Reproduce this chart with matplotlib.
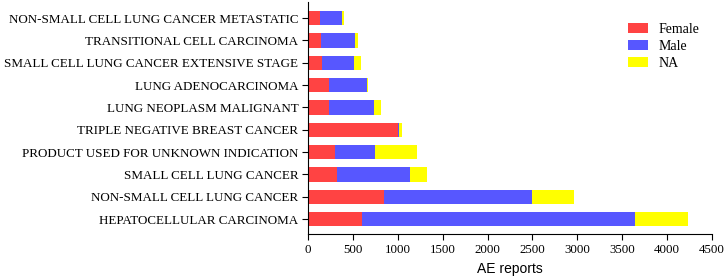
import matplotlib.pyplot as plt
import numpy as np

# categories bottom -> top
categories = ['HEPATOCELLULAR CARCINOMA', 'NON-SMALL CELL LUNG CANCER', 'SMALL CELL LUNG CANCER',
              'PRODUCT USED FOR UNKNOWN INDICATION', 'TRIPLE NEGATIVE BREAST CANCER',
              'LUNG NEOPLASM MALIGNANT', 'LUNG ADENOCARCINOMA',
              'SMALL CELL LUNG CANCER EXTENSIVE STAGE', 'TRANSITIONAL CELL CARCINOMA',
              'NON-SMALL CELL LUNG CANCER METASTATIC']
female = [597, 850, 327, 301, 1006, 230, 234, 152, 149, 138]
male = [3048, 1640, 812, 441, 9, 501, 427, 360, 371, 237]
na = [584, 475, 190, 475, 31, 78, 11, 74, 41, 30]

plt.rcParams['font.family'] = ['Liberation Serif', 'DejaVu Serif']

fig = plt.figure(figsize=(7.28, 2.79), dpi=100)
ax = fig.add_axes([308 / 728, 1 - 234 / 279, 404 / 728, 232 / 279])

y = np.arange(len(categories))
f = np.array(female)
m = np.array(male)
n = np.array(na)
ax.barh(y, f, height=0.64, color='#FF4343', label='Female')
ax.barh(y, m, left=f, height=0.64, color='#5757FF', label='Male')
ax.barh(y, n, left=f + m, height=0.64, color='#FFFF00', label='NA')

ax.set_yticks(y)
ax.set_yticklabels(categories, fontsize=9.4)
ax.set_xlim(0, 4500)
ax.set_xticks(np.arange(0, 4501, 500))
ax.tick_params(axis='x', labelsize=9.3, length=4, width=0.8)
ax.tick_params(axis='y', length=4, width=0.8, pad=3)
ax.set_ylim(-0.67, 9.72)
ax.spines['top'].set_visible(False)
ax.spines['right'].set_visible(False)
ax.set_xlabel('AE reports', fontsize=10, family='Liberation Sans')

ax.legend(loc='upper right', bbox_to_anchor=(1.0, 0.965), frameon=False, fontsize=10,
          handlelength=1.4, handleheight=0.7, handletextpad=0.8, labelspacing=0.3)

fig.savefig('out.png', dpi=100)
